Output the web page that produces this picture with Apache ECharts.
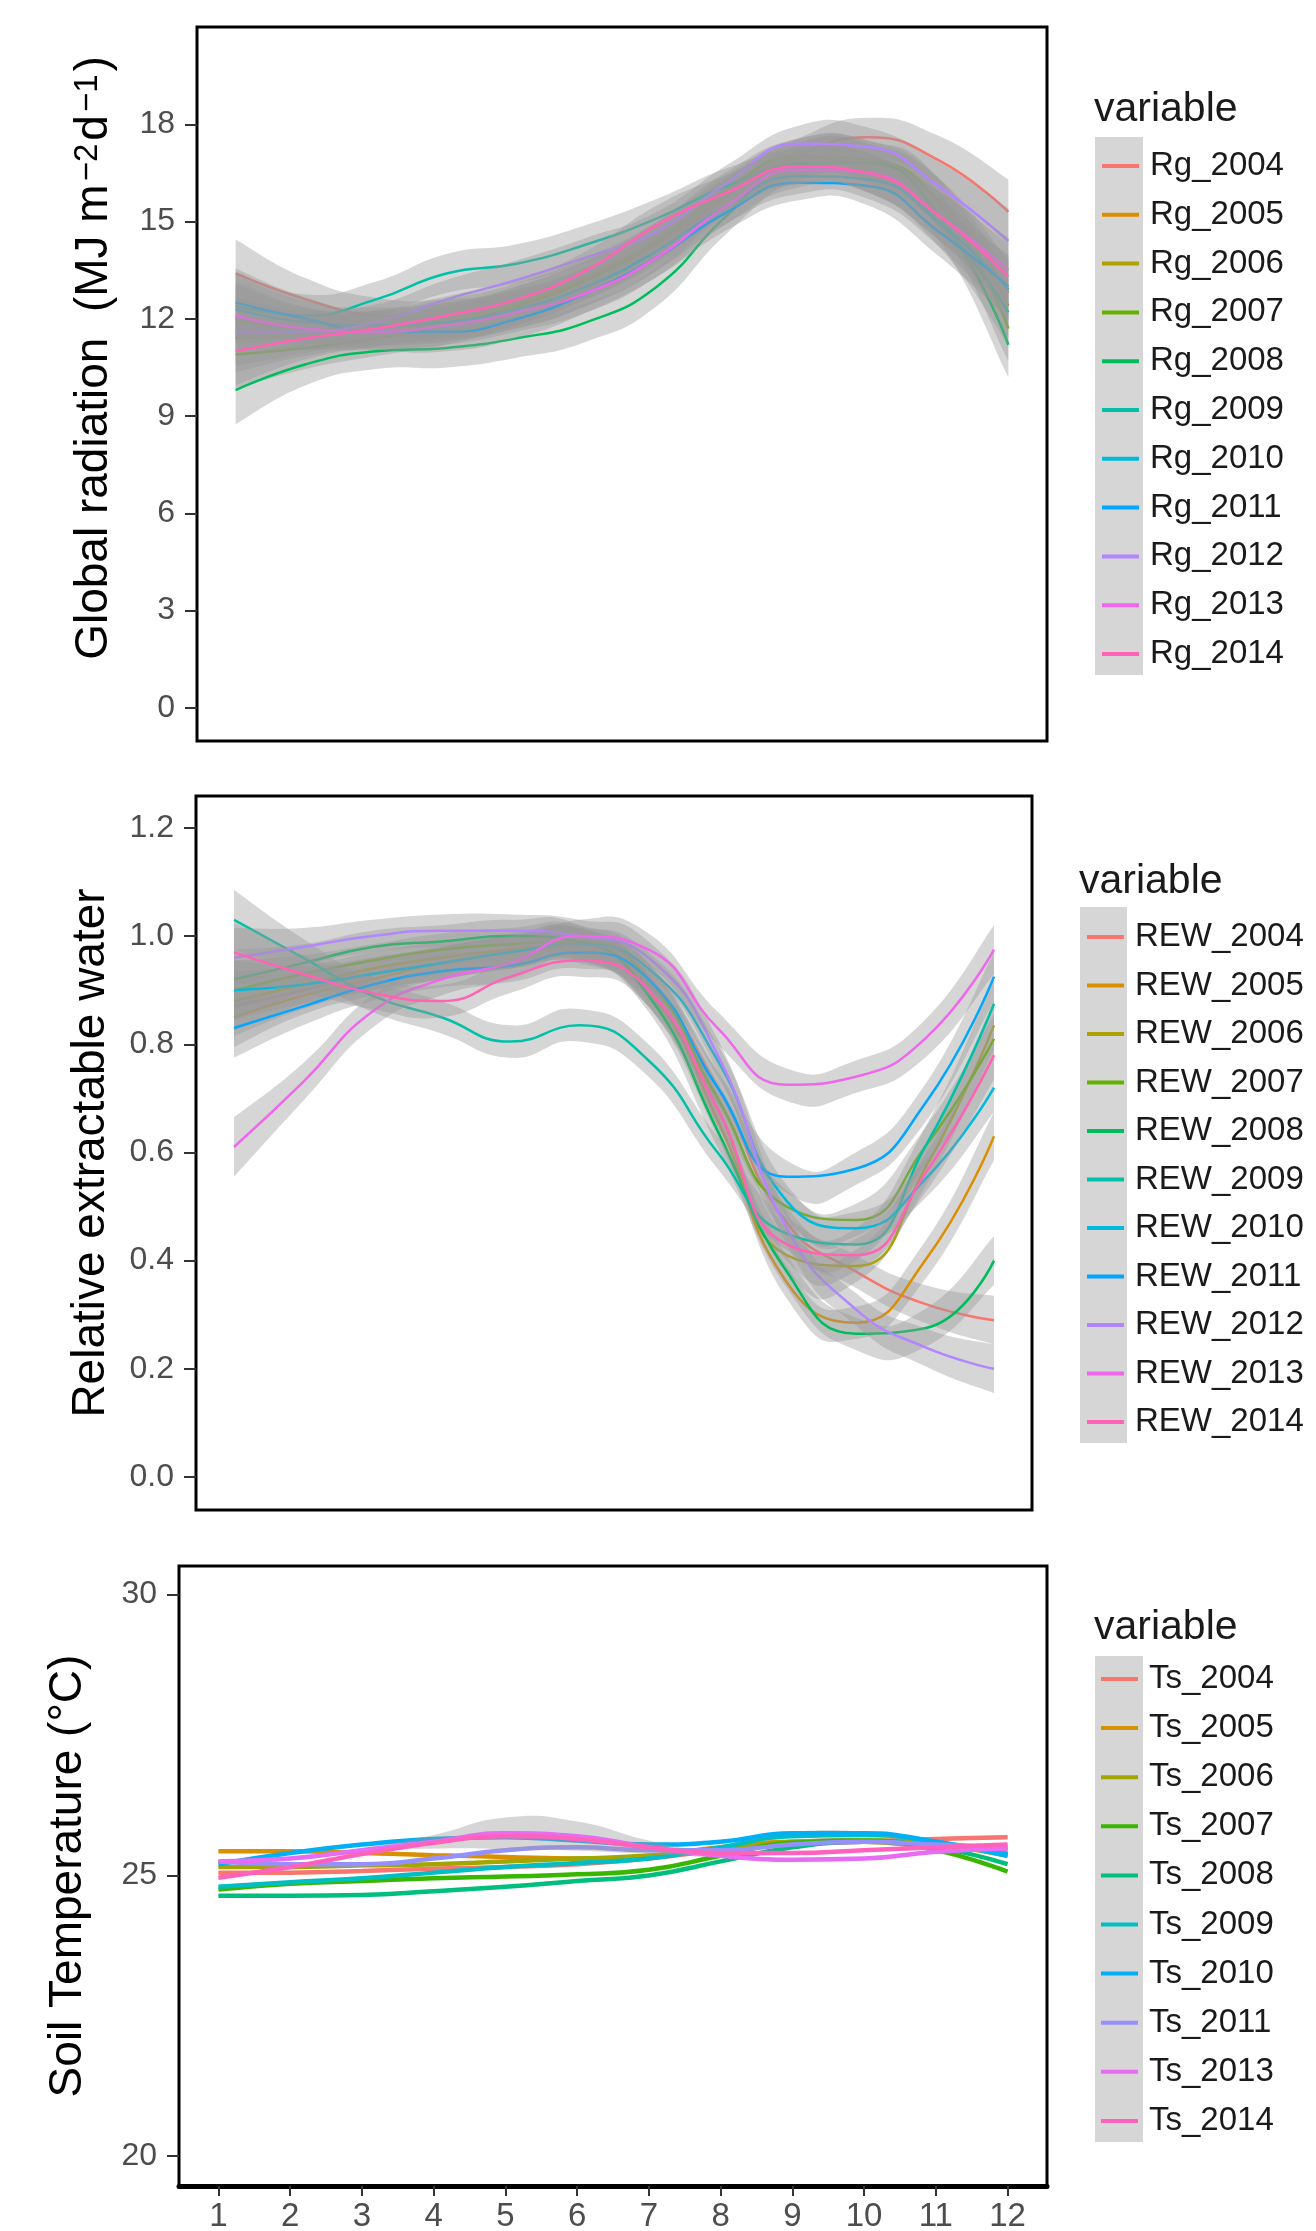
<!DOCTYPE html>
<html>
<head>
<meta charset="utf-8">
<script src="https://cdn.jsdelivr.net/npm/echarts@6/dist/echarts.min.js"></script>
<style>
html,body{margin:0;padding:0;background:#fff;}
#chart{width:1316px;height:2231px;}
</style>
</head>
<body>
<div id="chart"></div>
<script>
// months on the x axis
const months = [1,2,3,4,5,6,7,8,9,10,11,12];

// ---- Global radiation (MJ m-2 d-1), smoothed monthly
const rgNames = ['Rg_2004','Rg_2005','Rg_2006','Rg_2007','Rg_2008','Rg_2009','Rg_2010','Rg_2011','Rg_2012','Rg_2013','Rg_2014'];
const rg2004 = [13.4, 12.6, 12.1, 12.0, 12.3, 13.0, 14.1, 15.8, 17.0, 17.6, 16.9, 15.3];
const rg2005 = [12.0, 11.7, 11.7, 11.9, 12.4, 13.2, 14.3, 15.8, 16.9, 16.8, 15.6, 12.8];
const rg2006 = [11.4, 11.5, 11.7, 12.0, 12.5, 13.3, 14.4, 15.9, 17.0, 16.9, 15.6, 12.4];
const rg2007 = [10.9, 11.1, 11.4, 11.8, 12.4, 13.2, 14.4, 16.0, 17.0, 16.9, 15.6, 11.7];
const rg2008 = [9.8, 10.6, 11.0, 11.1, 11.4, 11.9, 13.0, 15.2, 16.8, 16.8, 15.2, 11.2];
const rg2009 = [12.4, 12.1, 12.6, 13.4, 13.7, 14.3, 15.1, 16.1, 16.7, 16.5, 15.0, 12.2];
const rg2010 = [12.3, 11.9, 11.8, 11.9, 12.3, 13.0, 14.1, 15.5, 16.4, 16.3, 15.0, 12.9];
const rg2011 = [12.5, 12.0, 11.6, 11.6, 12.0, 12.8, 13.9, 15.3, 16.2, 16.1, 14.7, 13.0];
const rg2012 = [11.6, 11.6, 11.9, 12.6, 13.2, 13.9, 14.7, 16.2, 17.4, 17.3, 16.1, 14.4];
const rg2013 = [12.1, 11.7, 11.6, 11.8, 12.2, 12.8, 13.9, 15.5, 16.6, 16.5, 15.2, 13.5];
const rg2014 = [11.0, 11.4, 11.7, 12.1, 12.6, 13.5, 14.9, 15.9, 16.7, 16.5, 15.2, 13.3];
// half width of the confidence ribbon
const rgBand = [1.05, 0.65, 0.55, 0.6, 0.6, 0.6, 0.6, 0.55, 0.55, 0.6, 0.75, 1.0];
const rgTicks = [0, 3, 6, 9, 12, 15, 18];

// ---- Relative extractable water
const rewNames = ['REW_2004','REW_2005','REW_2006','REW_2007','REW_2008','REW_2009','REW_2010','REW_2011','REW_2012','REW_2013','REW_2014'];
const rew2004 = [0.87, 0.90, 0.93, 0.95, 0.97, 0.98, 0.91, 0.72, 0.47, 0.38, 0.32, 0.29];
const rew2005 = [0.85, 0.89, 0.92, 0.95, 0.97, 0.985, 0.90, 0.66, 0.36, 0.285, 0.40, 0.63];
const rew2006 = [0.88, 0.91, 0.94, 0.96, 0.975, 0.985, 0.90, 0.68, 0.41, 0.39, 0.57, 0.835];
const rew2007 = [0.90, 0.93, 0.955, 0.975, 0.985, 0.99, 0.92, 0.70, 0.50, 0.475, 0.61, 0.81];
const rew2008 = [0.92, 0.95, 0.98, 0.99, 1.0, 0.99, 0.89, 0.64, 0.38, 0.265, 0.275, 0.40];
const rew2009 = [1.03, 0.96, 0.89, 0.85, 0.805, 0.835, 0.77, 0.60, 0.45, 0.43, 0.61, 0.875];
const rew2010 = [0.90, 0.91, 0.93, 0.95, 0.97, 0.985, 0.94, 0.77, 0.51, 0.46, 0.55, 0.72];
const rew2011 = [0.83, 0.87, 0.91, 0.935, 0.945, 0.97, 0.92, 0.72, 0.555, 0.57, 0.69, 0.925];
const rew2012 = [0.96, 0.98, 1.0, 1.01, 1.01, 1.0, 0.96, 0.78, 0.46, 0.31, 0.24, 0.20];
const rew2013 = [0.61, 0.73, 0.86, 0.92, 0.95, 1.0, 0.975, 0.83, 0.725, 0.74, 0.81, 0.975];
const rew2014 = [0.97, 0.93, 0.895, 0.88, 0.925, 0.955, 0.90, 0.68, 0.43, 0.41, 0.56, 0.78];
const rewBand = [0.055, 0.035, 0.03, 0.03, 0.03, 0.03, 0.03, 0.03, 0.03, 0.03, 0.035, 0.045];
const rewTicks = [0, 0.2, 0.4, 0.6, 0.8, 1.0, 1.2];

// ---- Soil temperature (°C)
const tsNames = ['Ts_2004','Ts_2005','Ts_2006','Ts_2007','Ts_2008','Ts_2009','Ts_2010','Ts_2011','Ts_2013','Ts_2014'];
const ts2004 = [25.05, 25.05, 25.08, 25.12, 25.15, 25.2, 25.3, 25.45, 25.55, 25.6, 25.65, 25.68];
const ts2005 = [25.43, 25.43, 25.4, 25.36, 25.33, 25.3, 25.35, 25.5, 25.6, 25.6, 25.5, 25.45];
const ts2006 = [25.15, 25.15, 25.18, 25.2, 25.25, 25.3, 25.35, 25.45, 25.6, 25.62, 25.55, 25.35];
const ts2007 = [24.75, 24.85, 24.9, 24.95, 24.98, 25.02, 25.1, 25.35, 25.58, 25.62, 25.45, 25.07];
const ts2008 = [24.64, 24.64, 24.65, 24.72, 24.8, 24.9, 25.0, 25.25, 25.5, 25.6, 25.5, 25.2];
const ts2009 = [24.8, 24.88, 24.95, 25.05, 25.15, 25.22, 25.3, 25.5, 25.7, 25.72, 25.6, 25.38];
const ts2010 = [25.2, 25.4, 25.55, 25.65, 25.68, 25.62, 25.55, 25.6, 25.75, 25.75, 25.6, 25.35];
const ts2011 = [25.25, 25.2, 25.2, 25.3, 25.45, 25.5, 25.45, 25.45, 25.55, 25.6, 25.55, 25.5];
const ts2013 = [25.25, 25.3, 25.45, 25.6, 25.75, 25.7, 25.5, 25.35, 25.28, 25.3, 25.42, 25.48];
const ts2014 = [24.96, 25.15, 25.38, 25.58, 25.7, 25.65, 25.5, 25.4, 25.4, 25.45, 25.5, 25.55];
const tsBand = [0.03, 0.03, 0.03, 0.03, 0.03, 0.03, 0.03, 0.03, 0.03, 0.03, 0.03, 0.03];
const ts2013Band = [0.03, 0.03, 0.04, 0.12, 0.28, 0.26, 0.12, 0.04, 0.03, 0.03, 0.03, 0.03];
const tsTicks = [20, 25, 30];

// ggplot hue palettes
const colors11 = ['#F8766D','#DB8E00','#AEA200','#64B200','#00BD5C','#00C1A7','#00BADE','#00A6FF','#B385FF','#EF67EB','#FF63B6'];
const colors10 = ['#F8766D','#D89000','#A3A500','#39B600','#00BF7D','#00BFC4','#00B0F6','#9590FF','#E76BF3','#FF62BC'];

const font = "'Liberation Sans', Arial, sans-serif";
const ribbonFill = 'rgba(153,153,153,0.4)';

// smooth bezier through pixel points (same feel as line smooth)
function curvePath(pts) {
    let d = '';
    for (let i = 0; i < pts.length - 1; i++) {
        const p0 = pts[i - 1] || pts[i];
        const p1 = pts[i];
        const p2 = pts[i + 1];
        const p3 = pts[i + 2] || pts[i + 1];
        const c1x = p1[0] + (p2[0] - p0[0]) / 4, c1y = p1[1] + (p2[1] - p0[1]) / 4;
        const c2x = p2[0] - (p3[0] - p1[0]) / 4, c2y = p2[1] - (p3[1] - p1[1]) / 4;
        d += 'C' + c1x + ',' + c1y + ' ' + c2x + ',' + c2y + ' ' + p2[0] + ',' + p2[1];
    }
    return d;
}

// whole ribbon drawn once, from item 0, through the axes
function ribbonItem(params, api) {
    if (params.dataIndexInside !== 0) return null;
    const up = [], lo = [];
    for (let k = 0; k < params.dataInsideLength; k++) {
        const x = api.value(0, k);
        up.push(api.coord([x, api.value(2, k)]));
        lo.push(api.coord([x, api.value(1, k)]));
    }
    lo.reverse();
    const d = 'M' + up[0][0] + ',' + up[0][1] + curvePath(up)
        + 'L' + lo[0][0] + ',' + lo[0][1] + curvePath(lo) + 'Z';
    return { type: 'path', shape: { pathData: d }, style: { fill: ribbonFill } };
}

const series = [];

// ribbon then line, group after group like geom_smooth (later ribbons veil earlier lines)
function addPanel(names, valueList, bandList, colors, idx, width) {
    names.forEach((name, i) => {
        const vals = valueList[i];
        const band = bandList[i];
        series.push({
            type: 'custom', xAxisIndex: idx, yAxisIndex: idx, silent: true,
            z: 2 + 2 * i,
            renderItem: ribbonItem,
            encode: { x: 0, y: [1, 2] },
            data: months.map((m, k) => [m, vals[k] - band[k], vals[k] + band[k]])
        });
        series.push({
            name: name, type: 'line', xAxisIndex: idx, yAxisIndex: idx,
            z: 3 + 2 * i,
            data: months.map((m, k) => [m, vals[k]]),
            smooth: true, showSymbol: false, color: colors[i],
            itemStyle: { color: colors[i] },
            lineStyle: { color: colors[i], width: width }
        });
    });
}

addPanel(rgNames,
    [rg2004, rg2005, rg2006, rg2007, rg2008, rg2009, rg2010, rg2011, rg2012, rg2013, rg2014],
    rgNames.map(() => rgBand), colors11, 0, 2.5);
addPanel(rewNames,
    [rew2004, rew2005, rew2006, rew2007, rew2008, rew2009, rew2010, rew2011, rew2012, rew2013, rew2014],
    rewNames.map(() => rewBand), colors11, 1, 2.5);
addPanel(tsNames,
    [ts2004, ts2005, ts2006, ts2007, ts2008, ts2009, ts2010, ts2011, ts2013, ts2014],
    tsNames.map((n) => n === 'Ts_2013' ? ts2013Band : tsBand), colors10, 2, 4.5);

function yAxisFor(idx, min, max, ticks, name, gap, rich, fmt, namePad) {
    return {
        gridIndex: idx, type: 'value', min: min, max: max,
        name: name, nameLocation: 'middle', nameGap: gap,
        nameTextStyle: { fontSize: 46, color: '#000', fontFamily: font, rich: rich, padding: namePad || 0 },
        axisLine: { show: false },
        splitLine: { show: false },
        axisTick: { show: true, length: 12, customValues: ticks, lineStyle: { color: '#333', width: 2 } },
        axisLabel: { customValues: ticks, fontSize: 32, color: '#4d4d4d', fontFamily: font, margin: 22, formatter: fmt }
    };
}

function xAxisFor(idx, showLabels) {
    return {
        gridIndex: idx, type: 'value', min: 0.45, max: 12.55,
        splitLine: { show: false },
        axisLine: { show: showLabels, onZero: false, lineStyle: { color: '#000', width: 5 } },
        axisTick: { show: showLabels, length: 10, customValues: months, lineStyle: { color: '#333', width: 2 } },
        axisLabel: { show: showLabels, customValues: months, fontSize: 33, color: '#4d4d4d', fontFamily: font, margin: 14 }
    };
}

const supRich = {
    a: { fontSize: 46, color: '#000', fontFamily: font },
    s: { fontSize: 33, color: '#000', fontFamily: font, verticalAlign: 'top', padding: [0, 3, 0, 3] }
};

function legendFor(names, left, top, gap) {
    return {
        data: names, orient: 'vertical', left: left, top: top, padding: 0,
        itemWidth: 37, itemHeight: 4, itemGap: gap, icon: 'rect', selectedMode: false,
        textStyle: { fontSize: 33, color: '#1a1a1a', fontFamily: font, lineHeight: 40, padding: [0, 0, 0, 6] }
    };
}

function legendTitle(left, top) {
    return {
        text: 'variable', left: left, top: top, padding: 0,
        textStyle: { fontSize: 41, fontWeight: 'normal', color: '#1a1a1a', fontFamily: font, lineHeight: 44 }
    };
}

const option = {
    animation: false,
    backgroundColor: '#fff',
    title: [legendTitle(1094, 88), legendTitle(1079, 860), legendTitle(1094, 1606)],
    legend: [
        legendFor(rgNames, 1102, 146, 8.8),
        legendFor(rewNames, 1087, 917, 8.5),
        legendFor(tsNames, 1101, 1659, 9.1)
    ],
    graphic: [
        { type: 'rect', left: 1095, top: 137, z: -1, shape: { width: 48, height: 538 }, style: { fill: '#d6d6d6' } },
        { type: 'rect', left: 1080, top: 907, z: -1, shape: { width: 47, height: 536 }, style: { fill: '#d6d6d6' } },
        { type: 'rect', left: 1095, top: 1656, z: -1, shape: { width: 48, height: 486 }, style: { fill: '#d6d6d6' } }
    ],
    grid: [
        { left: 197, right: 269, top: 27, height: 714, show: true, borderColor: '#000', borderWidth: 3, backgroundColor: 'transparent', outerBoundsMode: 'none' },
        { left: 196, right: 284, top: 796, height: 714, show: true, borderColor: '#000', borderWidth: 3, backgroundColor: 'transparent', outerBoundsMode: 'none' },
        { left: 179, right: 269, top: 1566, height: 620, show: true, borderColor: '#000', borderWidth: 3, backgroundColor: 'transparent', outerBoundsMode: 'none' }
    ],
    xAxis: [xAxisFor(0, false), xAxisFor(1, false), xAxisFor(2, true)],
    yAxis: [
        yAxisFor(0, -1.02, 21, rgTicks, '{a|Global radiation  (MJ m}{s|−2}{a|d}{s|−1}{a|)}', 80, supRich, undefined, [0, 0, 0, 52]),
        yAxisFor(1, -0.061, 1.259, rewTicks, 'Relative extractable water', 82, undefined, (v) => v.toFixed(1)),
        yAxisFor(2, 19.47, 30.51, tsTicks, 'Soil Temperature (°C)', 88, undefined)
    ],
    series: series
};

const myChart = echarts.init(document.getElementById('chart'));
myChart.setOption(option);
</script>
</body>
</html>
